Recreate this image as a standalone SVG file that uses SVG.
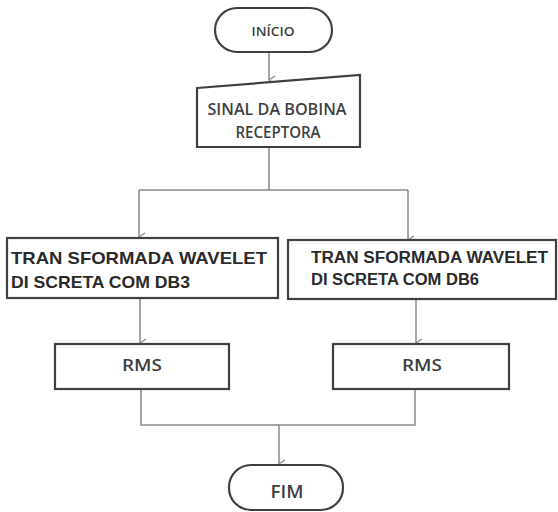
<svg xmlns="http://www.w3.org/2000/svg" width="558" height="512" viewBox="0 0 558 512">
<defs>
<marker id="ah" markerWidth="10" markerHeight="10" refX="5" refY="9" orient="auto-start-reverse" markerUnits="userSpaceOnUse" viewBox="0 0 10 10">
<path d="M1,3 L5,9 L9,3" fill="none" stroke="#8a8a8a" stroke-width="1.3"/>
</marker>
<style>
.box{fill:#fff;stroke:#404040;stroke-width:2.2}
.c{fill:none;stroke:#8a8a8a;stroke-width:1.5}
.t{font-family:"Open Sans","Liberation Sans",sans-serif;font-weight:600;fill:#404040;text-anchor:middle}
.b{font-family:"Liberation Sans",Arial,sans-serif;font-weight:bold;fill:#2a2a2a}
</style>
</defs>
<rect width="558" height="512" fill="#fff"/>
<g id="connectors">
<path class="c" d="M269,52 V80" marker-end="url(#ah)"/>
<path class="c" d="M269,147 V190"/>
<path class="c" d="M139,190 H408"/>
<path class="c" d="M139,190 V237" marker-end="url(#ah)"/>
<path class="c" d="M408,190 V240" marker-end="url(#ah)"/>
<path class="c" d="M140,298 V343" marker-end="url(#ah)"/>
<path class="c" d="M416,299 V343" marker-end="url(#ah)"/>
<path class="c" d="M141,389 V425 H415 V389"/>
<path class="c" d="M279,425 V464" marker-end="url(#ah)"/>
</g>
<g id="inicio">
<rect class="box" x="215" y="8" width="117" height="44" rx="22" ry="22"/>
<text class="t" x="273" y="36" font-size="13" textLength="43" lengthAdjust="spacingAndGlyphs">INÍCIO</text>
</g>
<g id="sinal">
<path class="box" d="M197,88 L360,75 V147 H197 Z"/>
<text class="t" x="277" y="115" font-size="16" textLength="139" lengthAdjust="spacingAndGlyphs">SINAL DA BOBINA</text>
<text class="t" x="278" y="138" font-size="16" textLength="85" lengthAdjust="spacingAndGlyphs">RECEPTORA</text>
</g>
<g id="dwt-db3">
<rect class="box" x="7" y="238" width="271" height="60"/>
<text class="b" x="11" y="264" font-size="17" textLength="256" lengthAdjust="spacingAndGlyphs">TRAN SFORMADA WAVELET</text>
<text class="b" x="11" y="288" font-size="17" textLength="179" lengthAdjust="spacingAndGlyphs">DI SCRETA COM DB3</text>
</g>
<g id="dwt-db6">
<rect class="box" x="288" y="240" width="268" height="59"/>
<text class="b" x="311" y="263" font-size="16" textLength="237" lengthAdjust="spacingAndGlyphs">TRAN SFORMADA WAVELET</text>
<text class="b" x="311" y="285" font-size="16" textLength="168" lengthAdjust="spacingAndGlyphs">DI SCRETA COM DB6</text>
</g>
<g id="rms1">
<rect class="box" x="55" y="344" width="174" height="45"/>
<text class="t" x="142" y="371" font-size="17" textLength="40" lengthAdjust="spacingAndGlyphs">RMS</text>
</g>
<g id="rms2">
<rect class="box" x="333" y="344" width="176" height="45"/>
<text class="t" x="422" y="371" font-size="17" textLength="40" lengthAdjust="spacingAndGlyphs">RMS</text>
</g>
<g id="fim">
<rect class="box" x="229" y="465" width="114" height="45" rx="22" ry="22"/>
<text class="t" x="287" y="498" font-size="18" textLength="33" lengthAdjust="spacingAndGlyphs">FIM</text>
</g>
</svg>
